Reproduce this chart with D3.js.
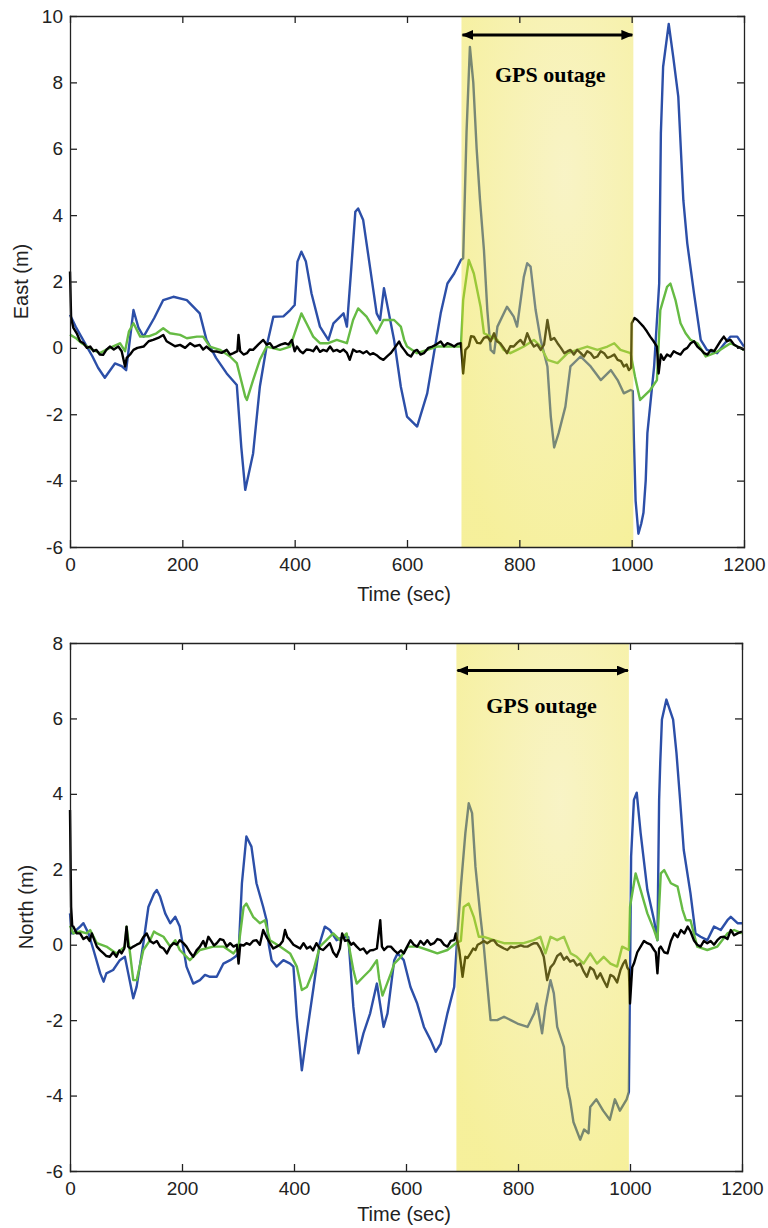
<!DOCTYPE html>
<html>
<head>
<meta charset="utf-8">
<script src="https://cdn.jsdelivr.net/npm/d3@7"></script>
<style>
  body { margin: 0; background: #fff; }
  svg { display: block; }
  .axis path, .axis line { stroke: #222; stroke-width: 1.3px; }
  .axis text { font-family: "Liberation Sans", Arial, sans-serif; font-size: 19px; fill: #222; }
  .label { font-family: "Liberation Sans", Arial, sans-serif; font-size: 20px; fill: #222; }
  .series { fill: none; stroke-width: 2.4px; stroke-linejoin: round; }
  .note { font-family: "Liberation Serif", "Times New Roman", serif; font-weight: bold; font-size: 22px; fill: #000; }
</style>
</head>
<body>
<svg id="chart" width="768" height="1228"></svg>
<script>
/////////////////////////////////////////////////////////////////
// Data: [time (sec), error (m)]
/////////////////////////////////////////////////////////////////

var xTicks = [0, 200, 400, 600, 800, 1000, 1200];
var eastTicks = [-6, -4, -2, 0, 2, 4, 6, 8, 10];
var northTicks = [-6, -4, -2, 0, 2, 4, 6, 8];

// GPS outage window for each panel (sec)
var eastOutage = [697, 1003];
var northOutage = [690, 998];

var eastBlue = [[0,1.0],[10,0.64],[20,0.34],[30,0.04],[40,-0.26],[50,-0.6],[62,-0.9],[80,-0.47],[92,-0.55],[100,-0.67],[113,1.14],[122,0.6],[131,0.34],[150,0.9],[166,1.44],[184,1.54],[208,1.44],[231,1.04],[243,0.24],[260,-0.3],[279,-0.77],[297,-1.12],[305,-3.0],[312,-4.28],[326,-3.18],[338,-1.17],[350,0.04],[362,0.94],[380,0.95],[392,1.14],[400,1.29],[405,2.6],[412,2.9],[420,2.6],[430,1.64],[445,0.64],[460,0.24],[469,0.74],[487,1.04],[493,0.64],[501,2.45],[508,4.1],[513,4.2],[522,3.85],[534,2.45],[546,1.04],[552,0.84],[559,1.8],[577,0.24],[589,-1.17],[600,-2.07],[618,-2.37],[636,-1.37],[648,-0.16],[660,1.04],[672,1.94],[684,2.24],[696,2.65],[700,2.7],[706,6.5],[712,9.07],[718,8.0],[724,6.0],[730,4.45],[737,2.95],[743,1.14],[749,-0.06],[755,-0.16],[761,0.64],[778,1.24],[790,0.94],[796,0.64],[808,2.14],[814,2.55],[820,2.45],[829,1.14],[838,0.24],[850,-0.56],[856,-2.07],[862,-3.0],[870,-2.57],[882,-1.77],[891,-0.56],[909,-0.26],[927,-0.56],[945,-0.97],[963,-0.67],[975,-0.97],[986,-1.37],[998,-1.27],[1002,-1.3],[1004,-2.8],[1007,-4.6],[1012,-5.6],[1017,-5.3],[1021,-4.97],[1025,-4.0],[1028,-2.57],[1040,-0.56],[1049,1.94],[1052,6.47],[1056,8.47],[1066,9.76],[1074,8.77],[1083,7.57],[1092,4.45],[1099,3.15],[1111,1.64],[1123,0.24],[1134,-0.06],[1152,-0.16],[1164,0.1],[1176,0.34],[1188,0.34],[1200,0.04]];

var eastGreen = [[0,0.4],[10,0.3],[20,0.15],[30,0.05],[40,-0.05],[53,-0.16],[71,0.0],[89,0.14],[98,-0.1],[105,0.5],[113,0.74],[125,0.34],[140,0.35],[154,0.44],[166,0.59],[178,0.44],[196,0.39],[208,0.29],[226,0.34],[237,0.34],[249,0.04],[267,-0.06],[285,-0.26],[297,-0.46],[305,-1.0],[312,-1.47],[315,-1.57],[326,-0.97],[338,-0.36],[350,0.04],[374,-0.06],[392,0.04],[400,0.44],[412,1.04],[421,0.74],[433,0.34],[445,0.14],[460,0.14],[475,0.24],[493,0.14],[504,0.84],[513,1.19],[528,0.94],[546,0.44],[558,0.84],[577,0.84],[589,0.64],[595,0.24],[600,0.04],[618,-0.16],[636,-0.06],[654,0.04],[678,0.04],[696,0.04],[700,1.44],[710,2.65],[719,2.24],[731,1.24],[737,0.44],[749,0.34],[761,0.24],[772,-0.06],[784,-0.16],[796,-0.06],[808,0.04],[826,0.24],[838,0.04],[850,-0.36],[868,-0.46],[886,-0.16],[903,-0.06],[921,0.04],[939,-0.06],[957,0.04],[969,0.14],[980,-0.06],[998,-0.16],[1006,-0.87],[1015,-1.57],[1021,-1.47],[1033,-1.27],[1045,-0.97],[1051,1.14],[1063,1.84],[1069,1.94],[1078,1.44],[1087,0.74],[1096,0.44],[1105,0.24],[1117,0.14],[1132,-0.26],[1147,-0.16],[1158,-0.06],[1176,0.14],[1188,0.04],[1200,-0.06]];

var eastBlack = [[0,2.3],[2,0.9],[6,0.6],[12,0.44],[18,0.2],[24,0.14],[30,0.0],[36,0.04],[42,-0.1],[47,-0.06],[53,-0.2],[59,-0.21],[65,-0.05],[71,0.04],[78,-0.05],[86,0.04],[92,-0.1],[98,-0.56],[101,-0.3],[107,-0.2],[113,-0.06],[120,0.0],[131,0.04],[140,0.2],[148,0.24],[157,0.3],[166,0.39],[172,0.2],[178,0.14],[187,0.05],[196,0.09],[205,0.0],[214,0.14],[222,0.05],[231,0.09],[237,-0.05],[243,0.04],[252,-0.1],[261,-0.11],[270,-0.15],[279,-0.06],[285,-0.2],[291,-0.16],[298,-0.1],[300,0.39],[303,-0.1],[309,-0.2],[315,-0.16],[320,-0.05],[326,-0.06],[335,0.1],[344,0.24],[350,0.1],[356,0.14],[362,0.0],[368,0.04],[375,0.1],[383,0.14],[389,0.1],[395,0.24],[400,-0.1],[404,0.04],[410,-0.1],[415,-0.16],[421,-0.05],[427,-0.06],[433,-0.1],[439,0.04],[445,-0.12],[451,-0.06],[457,-0.1],[463,0.04],[469,-0.1],[475,-0.06],[481,-0.12],[487,-0.05],[493,-0.15],[498,-0.36],[504,-0.05],[510,-0.12],[516,-0.1],[522,-0.16],[528,-0.1],[534,-0.2],[540,-0.16],[546,-0.22],[552,-0.31],[558,-0.36],[565,-0.25],[571,-0.16],[578,0.0],[586,0.19],[590,0.05],[595,-0.06],[601,-0.2],[607,-0.26],[613,-0.1],[618,-0.06],[624,-0.2],[630,-0.16],[638,0.0],[645,0.04],[652,0.1],[660,0.19],[666,0.05],[672,0.14],[678,0.1],[684,0.04],[690,0.12],[696,0.14],[700,-0.77],[704,-0.06],[710,0.05],[714,0.35],[719,0.34],[725,0.15],[731,0.14],[737,0.3],[743,0.34],[749,0.2],[755,0.44],[760,0.2],[766,0.14],[772,0.0],[778,-0.16],[784,0.05],[790,0.04],[796,0.15],[802,0.24],[808,0.1],[814,0.44],[820,0.2],[826,0.04],[832,0.1],[838,-0.06],[844,0.1],[850,0.84],[856,0.24],[862,0.3],[868,0.14],[874,0.0],[880,-0.16],[886,-0.1],[891,-0.06],[897,-0.2],[903,-0.06],[909,-0.15],[915,-0.26],[921,-0.1],[927,-0.16],[933,-0.3],[939,-0.26],[945,-0.1],[951,-0.16],[957,-0.3],[963,-0.26],[969,-0.2],[975,-0.36],[981,-0.4],[986,-0.56],[991,-0.5],[995,-0.67],[999,-0.6],[1000,0.74],[1005,0.9],[1010,0.84],[1015,0.75],[1021,0.64],[1027,0.5],[1033,0.34],[1039,0.2],[1045,0.04],[1048,-0.77],[1052,-0.2],[1057,-0.36],[1063,-0.2],[1069,-0.26],[1075,-0.1],[1081,-0.16],[1087,-0.2],[1093,-0.06],[1099,0.0],[1105,0.14],[1111,0.2],[1117,0.04],[1123,-0.05],[1129,-0.16],[1135,-0.2],[1141,-0.06],[1147,-0.1],[1152,0.04],[1158,0.2],[1164,0.34],[1170,0.2],[1176,0.24],[1182,0.1],[1188,0.04],[1194,0.0],[1200,-0.06]];

var northBlue = [[0,0.83],[3,0.3],[6,0.3],[12,0.4],[18,0.48],[24,0.57],[33,0.3],[42,-0.14],[54,-0.76],[60,-0.98],[65,-0.76],[77,-0.67],[89,-0.41],[98,-0.32],[104,-0.76],[113,-1.42],[119,-1.11],[131,0.04],[140,1.0],[150,1.35],[155,1.45],[161,1.27],[170,0.83],[179,0.57],[188,0.74],[196,0.48],[208,-0.58],[220,-1.03],[232,-0.94],[241,-0.8],[250,-0.85],[262,-0.85],[274,-0.5],[286,-0.41],[295,-0.32],[301,-0.23],[307,1.63],[315,2.87],[324,2.6],[333,1.63],[345,1.0],[351,0.65],[355,0.0],[360,-0.41],[369,-0.58],[381,-0.41],[393,-0.5],[399,-0.58],[405,-1.91],[414,-3.33],[423,-2.35],[435,-1.12],[446,0.04],[455,0.48],[464,0.39],[476,0.12],[488,0.21],[497,0.2],[506,-1.65],[515,-2.88],[524,-2.35],[536,-1.82],[548,-1.03],[554,-1.6],[560,-2.18],[567,-1.82],[579,-0.41],[585,-0.23],[596,-0.41],[608,-1.12],[620,-1.56],[632,-2.18],[644,-2.53],[653,-2.84],[662,-2.62],[674,-1.82],[686,-1.12],[692,0.3],[698,1.54],[706,2.96],[712,3.75],[718,3.49],[724,2.07],[733,0.74],[739,-0.05],[745,-1.03],[751,-2.0],[763,-2.0],[775,-1.91],[787,-2.0],[799,-2.09],[817,-2.18],[829,-1.82],[834,-1.56],[843,-2.35],[849,-1.65],[858,-0.94],[864,-1.29],[870,-2.18],[882,-2.71],[888,-3.77],[893,-4.11],[899,-4.7],[911,-5.17],[918,-4.9],[926,-5.0],[929,-4.3],[940,-4.1],[952,-4.4],[964,-4.64],[973,-4.1],[982,-4.4],[994,-4.1],[998,-3.9],[1000,-1.0],[1002,2.34],[1007,3.84],[1012,4.03],[1019,2.96],[1031,1.45],[1043,0.65],[1049,0.12],[1052,3.84],[1054,4.82],[1057,5.97],[1065,6.5],[1077,5.97],[1083,5.08],[1089,3.93],[1096,2.51],[1108,1.36],[1117,0.3],[1126,0.21],[1138,0.12],[1150,0.48],[1162,0.39],[1174,0.65],[1180,0.74],[1192,0.57],[1200,0.57]];

var northGreen = [[0,0.5],[6,0.3],[18,0.35],[30,0.3],[36,0.39],[48,0.04],[65,-0.05],[83,-0.23],[98,-0.05],[101,0.48],[107,-0.2],[113,-0.94],[119,-0.94],[131,-0.14],[143,0.12],[150,0.35],[155,0.3],[167,0.21],[179,-0.05],[188,0.12],[196,-0.14],[214,-0.41],[232,-0.14],[256,-0.05],[274,-0.05],[292,-0.23],[301,-0.05],[310,1.0],[315,1.09],[327,0.74],[339,0.57],[348,0.65],[357,0.12],[375,-0.05],[393,-0.23],[405,-0.58],[414,-1.2],[423,-1.12],[435,-0.67],[446,-0.05],[458,0.12],[470,0.3],[482,0.12],[494,0.3],[506,-0.67],[512,-1.03],[524,-0.85],[536,-0.67],[548,-0.41],[552,-0.9],[558,-1.35],[567,-1.0],[573,-0.76],[579,-0.5],[591,-0.32],[603,-0.05],[621,-0.05],[639,-0.14],[656,-0.23],[674,-0.14],[689,0.04],[698,0.1],[703,1.0],[712,1.09],[721,0.74],[730,0.21],[739,0.21],[757,0.12],[775,0.04],[792,0.04],[810,0.04],[828,0.12],[840,0.21],[849,-0.23],[858,0.21],[870,0.12],[882,0.21],[894,-0.23],[905,-0.32],[917,-0.5],[929,-0.23],[941,-0.5],[953,-0.32],[965,-0.5],[977,-0.58],[986,-0.05],[998,-0.14],[1000,1.0],[1010,1.89],[1019,1.45],[1031,0.83],[1043,0.39],[1049,0.12],[1055,1.89],[1061,1.98],[1073,1.63],[1085,1.54],[1094,0.92],[1100,0.65],[1108,0.65],[1120,-0.05],[1138,-0.14],[1156,-0.05],[1174,0.3],[1186,0.39],[1200,0.3]];

var northBlack = [[0,3.57],[2,1.0],[4,0.5],[6,0.48],[12,0.3],[18,0.3],[24,0.15],[30,0.21],[35,0.1],[39,0.3],[44,0.1],[48,-0.05],[54,-0.15],[60,-0.23],[65,-0.3],[71,-0.32],[77,-0.2],[83,-0.32],[88,-0.15],[92,-0.23],[97,-0.1],[101,0.48],[104,-0.05],[108,-0.1],[113,-0.05],[119,0.0],[125,0.04],[131,0.2],[137,0.3],[143,0.1],[149,0.04],[155,0.1],[161,-0.05],[167,-0.1],[173,-0.23],[179,-0.05],[185,0.04],[191,0.0],[196,0.12],[202,0.05],[208,-0.05],[214,-0.2],[220,-0.32],[226,-0.15],[232,-0.05],[238,0.1],[242,-0.05],[247,0.21],[252,0.1],[257,-0.02],[262,0.04],[268,0.15],[274,0.12],[280,-0.05],[286,0.04],[292,-0.05],[298,0.0],[301,-0.5],[304,0.0],[310,-0.02],[315,0.04],[321,0.0],[327,0.1],[333,0.12],[339,0.0],[345,0.39],[351,0.2],[357,0.04],[363,-0.1],[369,-0.05],[375,0.0],[380,0.1],[384,0.39],[388,0.2],[393,0.12],[399,0.0],[405,-0.05],[411,-0.1],[417,0.04],[423,-0.1],[429,-0.05],[434,-0.15],[440,0.04],[446,-0.1],[452,-0.14],[458,-0.05],[464,0.04],[470,-0.2],[476,-0.32],[482,-0.1],[486,0.3],[491,0.1],[497,0.12],[502,0.0],[506,0.05],[512,-0.05],[518,-0.14],[524,-0.1],[530,-0.23],[536,-0.15],[542,-0.14],[548,-0.1],[554,0.65],[557,-0.05],[561,-0.14],[567,-0.05],[573,-0.05],[579,-0.15],[585,-0.23],[591,-0.15],[596,-0.23],[602,-0.05],[608,0.12],[614,0.0],[620,-0.05],[626,0.1],[632,0.0],[638,0.12],[644,0.0],[650,0.04],[656,0.15],[662,0.12],[668,0.0],[674,-0.05],[680,0.1],[686,0.12],[689,0.3],[695,-0.14],[701,-0.85],[706,-0.32],[710,-0.35],[715,-0.23],[720,-0.1],[724,-0.14],[728,0.0],[733,0.04],[739,0.1],[745,0.04],[751,0.1],[757,0.12],[763,0.0],[769,-0.05],[775,-0.1],[781,-0.14],[787,-0.05],[793,-0.08],[799,-0.05],[805,-0.02],[811,-0.05],[817,-0.05],[823,0.0],[829,0.04],[834,0.04],[840,-0.1],[846,-0.32],[852,-0.94],[858,-0.6],[864,-0.5],[870,-0.3],[876,-0.23],[882,-0.4],[887,-0.32],[893,-0.45],[899,-0.41],[905,-0.55],[911,-0.5],[917,-0.7],[923,-0.85],[929,-0.6],[935,-0.67],[941,-0.9],[947,-0.76],[953,-0.95],[959,-1.12],[965,-0.8],[971,-0.85],[977,-1.0],[983,-0.67],[988,-0.5],[992,-0.41],[995,-0.6],[998,-0.67],[1000,-1.56],[1004,-0.6],[1007,-0.5],[1013,-0.2],[1019,-0.05],[1025,0.1],[1031,0.04],[1037,0.0],[1043,-0.14],[1046,-0.2],[1049,-0.76],[1052,-0.1],[1055,-0.05],[1061,-0.2],[1067,-0.23],[1073,0.1],[1079,0.3],[1085,0.2],[1091,0.39],[1097,0.3],[1103,0.48],[1108,0.35],[1114,0.12],[1120,0.0],[1126,-0.05],[1132,0.1],[1138,0.04],[1144,0.1],[1150,0.0],[1156,0.12],[1162,0.2],[1168,0.21],[1174,0.15],[1180,0.39],[1186,0.25],[1192,0.3],[1200,0.35]];

/////////////////////////////////////////////////////////////////
// Draw one panel (axes box, three error curves, outage shading)
/////////////////////////////////////////////////////////////////

var svg = d3.select("#chart");
var defs = svg.append("defs");

// plain integer labels with an ascii hyphen for negatives
var plainFormat = function(d) { return String(d); };

// arrow head used on both ends of the outage arrow
defs.append("marker")
    .attr("id", "head")
    .attr("viewBox", "0 0 12 10")
    .attr("refX", 11).attr("refY", 5)
    .attr("markerWidth", 12).attr("markerHeight", 10)
    .attr("markerUnits", "userSpaceOnUse")
    .attr("orient", "auto-start-reverse")
    .append("path")
    .attr("d", "M0,0 L12,5 L0,10 Z")
    .attr("fill", "#000");

function drawPanel(p) {

    var xScale = d3.scaleLinear().domain([0, 1200]).range([p.left, p.right]);
    var yScale = d3.scaleLinear().domain(p.yDomain).range([p.bottom, p.top]);

    var g = svg.append("g");

    // curves
    var line = d3.line()
                 .x(function(d) { return xScale(d[0]); })
                 .y(function(d) { return yScale(d[1]); });

    var series = [[p.blue, "#2c4fa8"], [p.green, "#66bb44"], [p.black, "#000000"]];
    series.forEach(function(s) {
        g.append("path")
         .datum(s[0])
         .attr("class", "series")
         .attr("stroke", s[1])
         .attr("d", line);
    });

    // outage shading drawn on top, semi transparent like the original
    var grad = defs.append("radialGradient")
        .attr("id", p.id + "Grad")
        .attr("cx", 0.6).attr("cy", 0.3).attr("r", 0.8);
    grad.append("stop").attr("offset", "0%").attr("stop-color", "#eee270").attr("stop-opacity", 0.4);
    grad.append("stop").attr("offset", "100%").attr("stop-color", "#e8d905").attr("stop-opacity", 0.4);

    g.append("rect")
     .attr("x", xScale(p.outage[0]))
     .attr("y", p.top)
     .attr("width", xScale(p.outage[1]) - xScale(p.outage[0]))
     .attr("height", p.bottom - p.top)
     .attr("fill", "url(#" + p.id + "Grad)");

    // axes: ticks point inward on all four sides
    g.append("g").attr("class", "axis")
     .attr("transform", "translate(0," + p.bottom + ")")
     .call(d3.axisBottom(xScale).tickValues(xTicks).tickFormat(plainFormat)
             .tickSizeInner(-7).tickSizeOuter(0).tickPadding(11));

    g.append("g").attr("class", "axis")
     .attr("transform", "translate(0," + p.top + ")")
     .call(d3.axisTop(xScale).tickValues(xTicks).tickSizeInner(-7).tickSizeOuter(0).tickFormat(""));

    g.append("g").attr("class", "axis")
     .attr("transform", "translate(" + p.left + ",0)")
     .call(d3.axisLeft(yScale).tickValues(p.yTicks).tickFormat(plainFormat)
             .tickSizeInner(-7).tickSizeOuter(0).tickPadding(7));

    g.append("g").attr("class", "axis")
     .attr("transform", "translate(" + p.right + ",0)")
     .call(d3.axisRight(yScale).tickValues(p.yTicks).tickSizeInner(-7).tickSizeOuter(0).tickFormat(""));

    g.selectAll(".axis .domain").attr("stroke-linecap", "square");

    // axis titles
    g.append("text")
     .attr("class", "label")
     .attr("x", 404).attr("y", p.xLabelY)
     .attr("text-anchor", "middle")
     .text("Time (sec)");

    g.append("text")
     .attr("class", "label")
     .attr("transform", "translate(" + p.yLabelX + "," + ((p.top + p.bottom) / 2) + ") rotate(-90)")
     .attr("text-anchor", "middle")
     .text(p.yLabel);

    // outage arrow and note
    g.append("line")
     .attr("x1", xScale(p.outage[0]) + 1).attr("x2", xScale(p.outage[1]) - 1)
     .attr("y1", yScale(p.arrowY)).attr("y2", yScale(p.arrowY))
     .attr("stroke", "#000").attr("stroke-width", 3)
     .attr("marker-start", "url(#head)")
     .attr("marker-end", "url(#head)");

    g.append("text")
     .attr("class", "note")
     .attr("x", xScale(p.noteAt[0])).attr("y", yScale(p.noteAt[1]))
     .attr("text-anchor", "middle")
     .text("GPS outage");
}

drawPanel({
    id: "east", left: 70, right: 744, top: 16, bottom: 547,
    yDomain: [-6, 10], yTicks: eastTicks, yLabel: "East (m)",
    blue: eastBlue, green: eastGreen, black: eastBlack,
    outage: eastOutage, arrowY: 9.43, noteAt: [855, 8.0],
    xLabelY: 601, yLabelX: 28
});

drawPanel({
    id: "north", left: 70, right: 742, top: 643, bottom: 1171,
    yDomain: [-6, 8], yTicks: northTicks, yLabel: "North (m)",
    blue: northBlue, green: northGreen, black: northBlack,
    outage: northOutage, arrowY: 7.27, noteAt: [842, 6.15],
    xLabelY: 1221, yLabelX: 33
});
</script>
</body>
</html>
